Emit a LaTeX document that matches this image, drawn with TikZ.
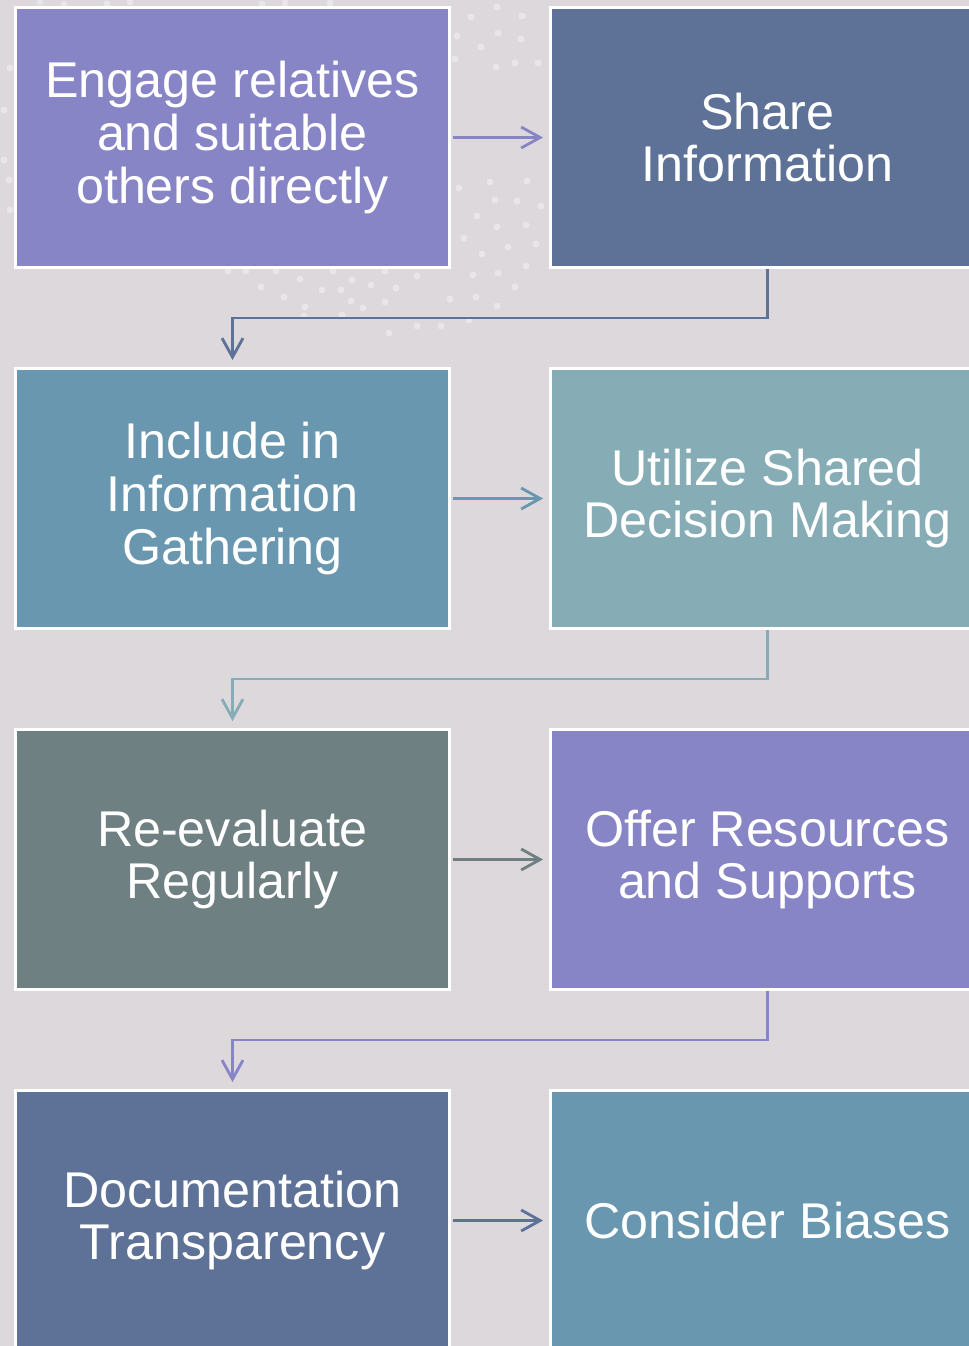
\documentclass[tikz,border=0pt]{standalone}
\usepackage{fontspec}
\setmainfont{Liberation Sans}
\usetikzlibrary{arrows.meta}
\definecolor{bgc}{HTML}{DCD8DB}
\definecolor{dotc}{HTML}{E8E6E8}
\definecolor{purp}{HTML}{8885C6}
\definecolor{slate}{HTML}{5E7298}
\definecolor{steel}{HTML}{6897AF}
\definecolor{sea}{HTML}{86ACB6}
\definecolor{sage}{HTML}{6E8081}

\tikzset{
  stepbox/.style={draw=white, line width=1.7pt, minimum width=8.68cm, minimum height=5.2cm,
    inner sep=0pt, text=white, align=center, font=\fontsize{28.6}{30}\selectfont},
  flow/.style={-{Straight Barb[length=0.38cm, width=0.42cm]}, line width=1.6pt}
}

\begin{document}
\begin{tikzpicture}[x=0.02cm, y=-0.02cm]
      \clip (0,0) rectangle (969,1346);
      \fill[bgc] (0,0) rectangle (969,1346);

      % faint dots behind the first row
      \foreach \x/\y in {40/2,64/4,107/4,130/2,262/4,285/3,330/3,10/68,4/110,4/160,9/180,10/210,
          471/17,497/7,522/16,457/36,498/33,521/39,481/47,455/59,496/67,515/63,538/63,
          459/188,490/182,527/181,495/200,517/201,541/206,477/216,497/227,526/225,
          464/238,482/254,508/247,536/244,473/275,498/273,526/266,450/299,476/297,
          515/287,497/306,469/320,228/271,246/271,276/271,333/271,385/271,261/287,
          300/279,322/290,352/280,284/297,305/307,341/290,371/285,396/288,417/276,
          304/316,342/315,363/308,385/302,389/333,417/326,441/326,351/301}
        \fill[dotc] (\x,\y) circle (0.07cm);

      \node[stepbox, fill=purp] (engage) at (232.5,137.5) {Engage relatives\\and suitable\\others directly};
      \node[stepbox, fill=slate] (share) at (767.5,137.5) {Share\\Information};

      \node[stepbox, fill=steel] (include) at (232.5,498.5) {Include in\\Information\\Gathering};
      \node[stepbox, fill=sea] (utilize) at (767.5,498.5) {Utilize Shared\\Decision Making};

      \node[stepbox, fill=sage] (reeval) at (232.5,859.5) {Re-evaluate\\Regularly};
      \node[stepbox, fill=purp] (offer) at (767.5,859.5) {Offer Resources\\and Supports};

      \node[stepbox, fill=slate] (docs) at (232.5,1220.5) {Documentation\\Transparency};
      \node[stepbox, fill=steel] (biases) at (767.5,1220.5) {Consider Biases};

      \draw[flow, purp, shorten <=1pt, shorten >=0.12cm] (engage) -- (share);
      \draw[flow, slate, shorten >=0.14cm] (share.south) -- ++(0,49) -| (include.north);
      \draw[flow, steel, shorten <=1pt, shorten >=0.12cm] (include) -- (utilize);
      \draw[flow, sea, shorten >=0.14cm] (utilize.south) -- ++(0,49) -| (reeval.north);
      \draw[flow, sage, shorten <=1pt, shorten >=0.12cm] (reeval) -- (offer);
      \draw[flow, purp, shorten >=0.14cm] (offer.south) -- ++(0,49) -| (docs.north);
      \draw[flow, slate, shorten <=1pt, shorten >=0.12cm] (docs) -- (biases);
\end{tikzpicture}
\end{document}
